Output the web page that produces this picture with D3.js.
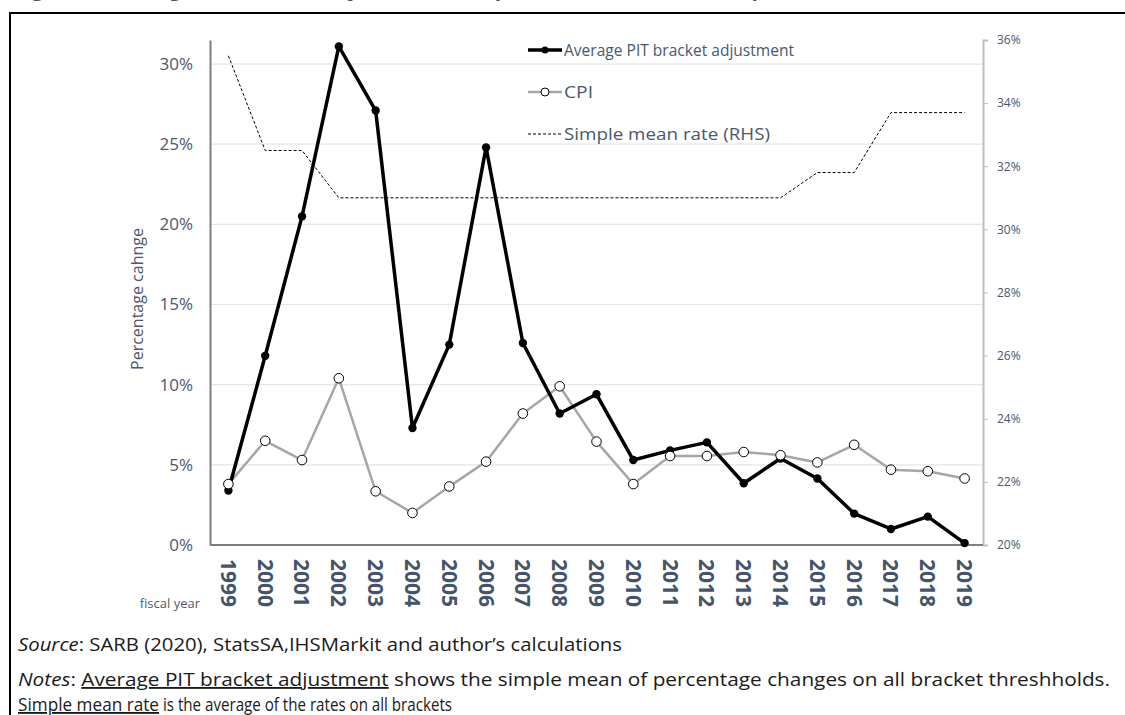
<!DOCTYPE html>
<html><head><meta charset="utf-8">
<script src="https://cdn.jsdelivr.net/npm/d3@7"></script>
<style>
body{margin:0;background:#fff;}
svg{display:block;font-family:"Open Sans","Noto Sans",sans-serif;}
</style></head>
<body>
<svg id="c" width="1125" height="715"></svg>
<script>
const years = ["1999","2000","2001","2002","2003","2004","2005","2006","2007","2008","2009","2010","2011","2012","2013","2014","2015","2016","2017","2018","2019"];
const pitAdjust = [3.4,11.8,20.5,31.1,27.1,7.3,12.5,24.8,12.6,8.2,9.4,5.3,5.9,6.4,3.85,5.4,4.15,1.96,1.0,1.77,0.12];
const cpi = [3.8,6.5,5.3,10.4,3.35,2.0,3.65,5.2,8.2,9.9,6.45,3.8,5.55,5.55,5.8,5.6,5.15,6.25,4.7,4.6,4.15];
const simpleMeanRate = [35.5,32.5,32.5,31.0,31.0,31.0,31.0,31.0,31.0,31.0,31.0,31.0,31.0,31.0,31.0,31.0,31.8,31.8,33.7,33.7,33.7];
const leftTicks = [0,5,10,15,20,25,30];
const rightTicks = [20,22,24,26,28,30,32,34,36];
const legendLabels = ["Average PIT bracket adjustment","CPI","Simple mean rate (RHS)"];

const svg = d3.select("#c");
const labelColor = "#4a5770";
const L = 210, R = 983, T = 40, B = 545;

// frame and (cropped) title
svg.append("text").attr("x",14).attr("y",-4).attr("font-size",21).attr("font-weight","bold")
  .attr("fill","#44546a").text("Figure 7: Average PIT bracket adjustment compared to CPI and the simple mean rate");
svg.append("rect").attr("x",10).attr("y",13).attr("width",1130).attr("height",720)
  .attr("fill","none").attr("stroke","#000").attr("stroke-width",2);

const x = d3.scalePoint().domain(years).range([L, R]).padding(0.5);
const yL = d3.scaleLinear().domain([0, 31.5]).range([B, T]);
const yR = d3.scaleLinear().domain([20, 36]).range([B, T]);

// gridlines
svg.append("g").selectAll("line").data(leftTicks.filter(d=>d>0)).join("line")
  .attr("x1",L).attr("x2",R).attr("y1",d=>yL(d)).attr("y2",d=>yL(d))
  .attr("stroke","#e4e4ec").attr("stroke-width",1.2);

// left axis
const gl = svg.append("g").attr("transform",`translate(${L},0)`)
  .call(d3.axisLeft(yL).tickValues(leftTicks).tickSize(0).tickPadding(17).tickFormat(d=>d+"%"));
gl.select(".domain").attr("stroke","#7f7f7f").attr("stroke-width",2);
gl.selectAll("text").attr("font-size",17).attr("fill",labelColor).attr("font-family","'Open Sans',sans-serif");

// right axis
const gr = svg.append("g").attr("transform",`translate(${R},0)`)
  .call(d3.axisRight(yR).tickValues(rightTicks).tickSize(5).tickPadding(9).tickFormat(d=>d+"%"));
gr.select(".domain").attr("stroke","#bfbfbf").attr("stroke-width",2);
gr.selectAll(".tick line").attr("stroke","#bfbfbf");
gr.selectAll("text").attr("font-size",12).attr("fill",labelColor).attr("font-family","'Open Sans',sans-serif");

// bottom axis
svg.append("line").attr("x1",L).attr("x2",R).attr("y1",B).attr("y2",B)
  .attr("stroke","#7f7f7f").attr("stroke-width",2);
svg.append("g").selectAll("text").data(years).join("text")
  .attr("transform",d=>`translate(${x(d)},559) rotate(90)`)
  .attr("dy","0.36em").attr("font-size",21).attr("font-weight","bold")
  .attr("textLength",48).attr("lengthAdjust","spacingAndGlyphs")
  .attr("fill","#44546a").text(d=>d);

svg.append("text").attr("x",200).attr("y",608).attr("text-anchor","end")
  .attr("font-size",13).attr("fill","#595959").text("fiscal year");
svg.append("text").attr("transform","translate(143,299) rotate(-90)")
  .attr("text-anchor","middle").attr("font-size",16).attr("fill",labelColor).text("Percentage cahnge");

// series
const lineL = d3.line().x((d,i)=>x(years[i])).y(d=>yL(d));
const lineR = d3.line().x((d,i)=>x(years[i])).y(d=>yR(d));

svg.append("path").datum(simpleMeanRate).attr("d",lineR).attr("fill","none")
  .attr("stroke","#000").attr("stroke-width",1).attr("stroke-dasharray","3,2");

svg.append("path").datum(cpi).attr("d",lineL).attr("fill","none")
  .attr("stroke","#a6a6a6").attr("stroke-width",2.5).attr("stroke-linejoin","round");
svg.append("path").datum(pitAdjust).attr("d",lineL).attr("fill","none")
  .attr("stroke","#000").attr("stroke-width",3.5).attr("stroke-linejoin","round");
svg.append("g").selectAll("circle").data(pitAdjust).join("circle")
  .attr("cx",(d,i)=>x(years[i])).attr("cy",d=>yL(d)).attr("r",4.2).attr("fill","#000");
svg.append("g").selectAll("circle").data(cpi).join("circle")
  .attr("cx",(d,i)=>x(years[i])).attr("cy",d=>yL(d)).attr("r",4.8)
  .attr("fill","#fff").attr("stroke","#000").attr("stroke-width",1);

// legend
const lg = svg.append("g");
const lx = 528, lys = [50,92,134];
lg.append("line").attr("x1",lx).attr("x2",lx+34).attr("y1",lys[0]).attr("y2",lys[0]).attr("stroke","#000").attr("stroke-width",3.5);
lg.append("circle").attr("cx",lx+17).attr("cy",lys[0]).attr("r",3.5).attr("fill","#000");
lg.append("line").attr("x1",lx).attr("x2",lx+34).attr("y1",lys[1]).attr("y2",lys[1]).attr("stroke","#a6a6a6").attr("stroke-width",2.5);
lg.append("circle").attr("cx",lx+17).attr("cy",lys[1]).attr("r",4).attr("fill","#fff").attr("stroke","#000");
lg.append("line").attr("x1",lx).attr("x2",lx+34).attr("y1",lys[2]).attr("y2",lys[2]).attr("stroke","#000").attr("stroke-width",1).attr("stroke-dasharray","3,2");
const legW = [230, 29, 206];
lg.selectAll("text").data(legendLabels).join("text")
  .attr("x",lx+36).attr("y",(d,i)=>lys[i]).attr("dy","0.35em")
  .attr("font-size",17).attr("textLength",(d,i)=>legW[i]).attr("lengthAdjust","spacingAndGlyphs")
  .attr("fill",labelColor).text(d=>d);

// source and notes
const fs = 18.5;
const src = svg.append("text").attr("x",18).attr("y",651).attr("font-size",fs).attr("fill","#1a1a1a")
  .attr("textLength",604).attr("lengthAdjust","spacingAndGlyphs");
src.append("tspan").attr("font-style","italic").text("Source");
src.append("tspan").text(": SARB (2020), StatsSA,IHSMarkit and author’s calculations");

const n1 = svg.append("text").attr("x",18).attr("y",686).attr("font-size",fs).attr("fill","#1a1a1a")
  .attr("textLength",1092).attr("lengthAdjust","spacingAndGlyphs");
n1.append("tspan").attr("font-style","italic").text("Notes");
n1.append("tspan").text(": ");
n1.append("tspan").attr("text-decoration","underline").text("Average PIT bracket adjustment");
n1.append("tspan").text(" shows the simple mean of percentage changes on all bracket threshholds.");

const n2 = svg.append("text").attr("x",18).attr("y",711).attr("font-size",fs).attr("fill","#1a1a1a");
n2.append("tspan").attr("text-decoration","underline").attr("textLength",141).attr("lengthAdjust","spacingAndGlyphs").text("Simple mean rate");
n2.append("tspan").attr("textLength",293).attr("lengthAdjust","spacingAndGlyphs").text(" is the average of the rates on all brackets");
</script>
</body></html>
